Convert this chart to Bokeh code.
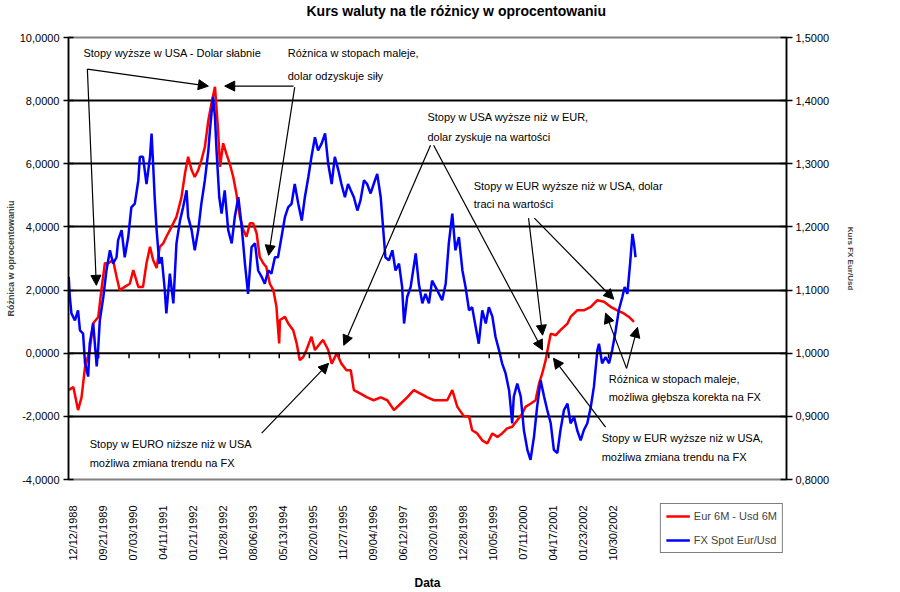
import math
from bokeh.plotting import figure
from bokeh.layouts import column
from bokeh.core.properties import value
from bokeh.models import (Range1d, LinearAxis, FixedTicker, Label, Arrow, NormalHead,
                          Legend, LegendItem, Span, Title)
from bokeh.embed import file_html
from bokeh.resources import INLINE

FONT = "Liberation Sans"

# ---------------- data (decimal years) ----------------
red_t = [1988.95, 1989.07, 1989.19, 1989.28, 1989.37, 1989.49, 1989.58, 1989.71, 1989.79, 1989.88,
         1989.97, 1990.09, 1990.18, 1990.26, 1990.39, 1990.52, 1990.61, 1990.74, 1990.86, 1990.95,
         1991.04, 1991.12, 1991.21, 1991.29, 1991.38, 1991.46, 1991.55, 1991.64, 1991.72, 1991.85,
         1991.94, 1992.02, 1992.11, 1992.19, 1992.28, 1992.36, 1992.45, 1992.54, 1992.62, 1992.71,
         1992.79, 1992.84, 1992.92, 1993.01, 1993.09, 1993.18, 1993.26, 1993.35, 1993.44, 1993.52,
         1993.61, 1993.69, 1993.78, 1993.86, 1993.95, 1994.03, 1994.12, 1994.21, 1994.29, 1994.36,
         1994.38, 1994.51, 1994.59, 1994.72, 1994.81, 1994.89, 1994.98, 1995.06, 1995.19, 1995.28,
         1995.41, 1995.49, 1995.62, 1995.71, 1995.84, 1995.96, 1996.09,
         1996.20, 1996.28, 1996.45, 1996.62, 1996.79, 1996.97, 1997.14, 1997.31, 1997.48, 1997.65,
         1997.82, 1997.99, 1998.17, 1998.34, 1998.51, 1998.68, 1998.81, 1998.94, 1999.11, 1999.24,
         1999.32, 1999.45, 1999.58, 1999.71, 1999.84, 1999.97, 2000.09, 2000.22, 2000.35, 2000.48,
         2000.61, 2000.69, 2000.82, 2000.95, 2001.04, 2001.12, 2001.21, 2001.29, 2001.34, 2001.47,
         2001.59, 2001.77, 2001.85, 2002.02, 2002.19, 2002.37, 2002.54, 2002.71, 2002.88, 2003.05,
         2003.22, 2003.35, 2003.48]
red_v = [-1.17, -1.07, -1.80, -1.40, -0.43, 0.10, 0.95, 1.15, 2.00, 2.85,
         2.85, 2.95, 2.42, 2.00, 2.10, 2.20, 2.63, 2.10, 2.10, 2.85,
         3.37, 2.95, 2.70, 3.37, 3.48, 3.69, 3.90, 4.12, 4.32, 4.95,
         5.70, 6.22, 5.80, 5.58, 5.80, 6.11, 6.53, 7.38, 7.91, 8.44,
         7.06, 5.90, 6.65, 6.30, 6.00, 5.58, 5.06, 4.32, 3.90, 3.69,
         4.12, 4.12, 3.80, 3.05, 2.85, 2.73, 2.20, 2.00, 1.47, 0.31,
         1.05, 1.15, 0.95, 0.73, 0.31, -0.22, -0.12, 0.10, 0.52, 0.10,
         0.31, 0.42, 0.10, -0.33, 0.00, -0.33, -0.54,
         -0.54, -1.17, -1.28, -1.40, -1.49, -1.40, -1.49, -1.80, -1.60, -1.40,
         -1.17, -1.28, -1.40, -1.49, -1.49, -1.49, -1.17, -1.70, -2.00, -2.00,
         -2.44, -2.54, -2.76, -2.86, -2.54, -2.65, -2.54, -2.38, -2.33, -2.12,
         -1.91, -1.70, -1.60, -1.49, -0.96, -0.65, -0.22, 0.31, 0.62, 0.57,
         0.73, 0.94, 1.15, 1.36, 1.36, 1.47, 1.68, 1.63, 1.47, 1.36,
         1.26, 1.15, 0.99]

blue_t = [1988.95, 1988.98, 1989.02, 1989.11, 1989.19, 1989.24, 1989.32, 1989.37, 1989.45, 1989.49,
          1989.58, 1989.67, 1989.71, 1989.75, 1989.84, 1989.92, 1990.01, 1990.09, 1990.18, 1990.22,
          1990.31, 1990.39, 1990.48, 1990.56, 1990.65, 1990.74, 1990.78, 1990.86, 1990.95, 1991.04,
          1991.08, 1991.12, 1991.16, 1991.21, 1991.28, 1991.34, 1991.42, 1991.46, 1991.55, 1991.64,
          1991.72, 1991.81, 1991.89, 1991.98, 1992.02, 1992.11, 1992.19, 1992.28, 1992.36, 1992.45,
          1992.54, 1992.58, 1992.66, 1992.71, 1992.75, 1992.82, 1992.88, 1992.96, 1993.05, 1993.14,
          1993.22, 1993.31, 1993.39, 1993.48, 1993.56, 1993.65, 1993.74, 1993.82, 1993.91, 1993.99,
          1994.08, 1994.16, 1994.25, 1994.33, 1994.42, 1994.51, 1994.59, 1994.68, 1994.76, 1994.85,
          1994.94, 1995.02, 1995.11, 1995.19, 1995.28, 1995.36, 1995.45, 1995.54, 1995.62, 1995.71,
          1995.79, 1995.88, 1995.96, 1996.05, 1996.13,
          1996.20, 1996.28, 1996.37, 1996.45, 1996.54, 1996.62, 1996.71, 1996.79, 1996.88, 1996.97,
          1997.05, 1997.09, 1997.18, 1997.27, 1997.35, 1997.44, 1997.52, 1997.57, 1997.65, 1997.74,
          1997.87, 1997.95, 1998.04, 1998.12, 1998.21, 1998.29, 1998.42, 1998.55, 1998.64, 1998.72,
          1998.81, 1998.89, 1998.98, 1999.07, 1999.15, 1999.24, 1999.32, 1999.41, 1999.49, 1999.58,
          1999.67, 1999.75, 1999.84, 1999.92, 2000.01, 2000.09, 2000.18, 2000.27, 2000.35, 2000.39,
          2000.48, 2000.57, 2000.65, 2000.74, 2000.82, 2000.91, 2000.99, 2001.08, 2001.17, 2001.25,
          2001.34, 2001.42, 2001.51, 2001.59, 2001.68, 2001.77, 2001.85, 2001.94, 2002.02, 2002.11,
          2002.19, 2002.28, 2002.37, 2002.45, 2002.54, 2002.58, 2002.66, 2002.75, 2002.84, 2002.92,
          2003.01, 2003.09, 2003.18, 2003.24, 2003.31, 2003.38, 2003.44, 2003.48, 2003.52]
blue_v = [1.121, 1.089, 1.063, 1.052, 1.068, 1.036, 1.031, 0.984, 0.963, 1.015,
          1.047, 0.979, 1.010, 1.052, 1.089, 1.131, 1.163, 1.142, 1.152, 1.179,
          1.195, 1.152, 1.184, 1.231, 1.237, 1.274, 1.311, 1.311, 1.268, 1.311,
          1.348, 1.300, 1.247, 1.195, 1.142, 1.152, 1.100, 1.063, 1.126, 1.079,
          1.174, 1.210, 1.231, 1.258, 1.216, 1.195, 1.163, 1.195, 1.237, 1.274,
          1.321, 1.353, 1.406, 1.374, 1.321, 1.247, 1.221, 1.258, 1.195, 1.174,
          1.216, 1.247, 1.205, 1.142, 1.094, 1.168, 1.174, 1.131, 1.121, 1.110,
          1.131, 1.126, 1.152, 1.152, 1.184, 1.216, 1.231, 1.237, 1.268, 1.237,
          1.210, 1.247, 1.279, 1.311, 1.342, 1.321, 1.332, 1.348, 1.300, 1.268,
          1.311, 1.290, 1.268, 1.247, 1.268,
          1.258, 1.247, 1.226, 1.242, 1.274, 1.268, 1.253, 1.268, 1.284, 1.247,
          1.184, 1.152, 1.147, 1.163, 1.131, 1.142, 1.105, 1.047, 1.089, 1.105,
          1.158, 1.110, 1.079, 1.094, 1.079, 1.115, 1.100, 1.084, 1.110, 1.174,
          1.221, 1.163, 1.184, 1.131, 1.105, 1.068, 1.073, 1.042, 1.015, 1.068,
          1.047, 1.073, 1.058, 1.026, 1.005, 0.984, 0.968, 0.941, 0.889, 0.931,
          0.952, 0.931, 0.878, 0.847, 0.831, 0.868, 0.915, 0.957, 0.931, 0.910,
          0.889, 0.847, 0.842, 0.878, 0.910, 0.920, 0.889, 0.899, 0.878, 0.862,
          0.878, 0.889, 0.915, 0.947, 1.005, 1.015, 0.984, 0.994, 0.984, 1.005,
          1.036, 1.068, 1.089, 1.105, 1.094, 1.142, 1.189, 1.174, 1.152]

x_tick_pos = [1988.945, 1989.721, 1990.501, 1991.274, 1992.055, 1992.822, 1993.595, 1994.362,
              1995.137, 1995.904, 1996.675, 1997.444, 1998.214, 1998.989, 1999.759, 2000.525,
              2001.290, 2002.060, 2002.827]
x_tick_labels = ["12/12/1988", "09/21/1989", "07/03/1990", "04/11/1991", "01/21/1992", "10/28/1992",
                 "08/06/1993", "05/13/1994", "02/20/1995", "11/27/1995", "09/04/1996", "06/12/1997",
                 "03/20/1998", "12/28/1998", "10/05/1999", "07/11/2000", "04/17/2001", "01/23/2002",
                 "10/30/2002"]
left_ticks = [-4, -2, 0, 2, 4, 6, 8, 10]
left_tick_labels = ["-4,0000", "-2,0000", "0,0000", "2,0000", "4,0000", "6,0000", "8,0000", "10,0000"]
right_ticks = [0.8, 0.9, 1.0, 1.1, 1.2, 1.3, 1.4, 1.5]
right_tick_labels = ["0,8000", "0,9000", "1,0000", "1,1000", "1,2000", "1,3000", "1,4000", "1,5000"]

series_names = ["Eur 6M - Usd 6M", "FX Spot Eur/Usd"]

annotations = [
    ("Stopy wyższe w USA - Dolar słabnie", 1989.33, 9.50),
    ("Różnica w stopach maleje,", 1994.58, 9.50),
    ("dolar odzyskuje siły", 1994.58, 8.77),
    ("Stopy  w USA wyższe niż w EUR,", 1998.17, 7.48),
    ("dolar zyskuje na wartości", 1998.17, 6.84),
    ("Stopy w EUR wyższe niż w USA, dolar", 1999.36, 5.29),
    ("traci na wartości", 1999.36, 4.72),
    ("Stopy w EURO niższe niż w USA", 1989.49, -2.88),
    ("możliwa zmiana trendu na FX", 1989.49, -3.48),
    ("Różnica w stopach maleje,", 2002.83, -0.82),
    ("możliwa głębsza korekta na FX", 2002.83, -1.39),
    ("Stopy w EUR wyższe niż w USA,", 2002.65, -2.69),
    ("możliwa zmiana trendu na FX", 2002.65, -3.29),
]

arrows = [
    (1989.43, 9.00, 1992.54, 8.46),
    (1989.43, 9.00, 1989.66, 2.15),
    (1994.73, 8.46, 1992.96, 8.46),
    (1994.76, 8.43, 1994.09, 3.10),
    (1993.91, -2.53, 1995.63, -0.32),
    (1998.25, 6.59, 1996.02, 0.25),
    (1998.33, 6.59, 2001.13, 0.10),
    (2000.77, 4.28, 2001.13, 0.57),
    (2000.92, 4.28, 2002.96, 1.71),
    (2002.75, -2.34, 2001.41, -0.16),
    (2003.29, -0.48, 2002.75, 1.27),
    (2003.29, -0.48, 2003.57, 0.82),
]

X0, X1 = 1988.945, 2007.40
FRAME_L, FRAME_W = 68, 718

# ---------------- main figure ----------------
p = figure(width=900, height=500, output_backend="svg", toolbar_location=None, title=None,
           x_range=Range1d(X0, X1), y_range=Range1d(-4, 10),
           x_axis_type=None,
           min_border_left=FRAME_L, min_border_right=900 - FRAME_L - FRAME_W,
           min_border_top=37, min_border_bottom=21)
p.background_fill_color = "white"
p.border_fill_color = "white"
p.outline_line_color = "#808080"
p.outline_line_width = 2

# spacer title (nearest the frame) then the real title above it
p.add_layout(Title(text=" ", text_font=FONT, text_font_size="10px", standoff=6), "above")
p.add_layout(Title(text="Kurs waluty na tle różnicy w oprocentowaniu", align="left", offset=238,
                   text_font=FONT, text_font_size="14px", text_font_style="bold",
                   text_color="black", standoff=0), "above")

ya = p.yaxis[0]
ya.ticker = FixedTicker(ticks=left_ticks)
ya.major_label_overrides = {t: l for t, l in zip(left_ticks, left_tick_labels)}
ya.axis_label = "Różnica w oprocentowaniu"
ya.axis_label_text_font = FONT
ya.axis_label_text_font_size = "9px"
ya.axis_label_text_font_style = "bold"
ya.axis_label_standoff = 1
ya.major_label_text_font = FONT
ya.major_label_text_font_size = "11px"
ya.major_label_text_color = "black"
ya.axis_line_color = "black"
ya.axis_line_width = 1.5
ya.major_tick_line_color = "black"
ya.major_tick_line_width = 1.5
ya.major_tick_in = 5
ya.major_tick_out = 5
ya.minor_tick_line_color = None
ya.major_label_standoff = 4

p.ygrid.ticker = FixedTicker(ticks=[-2, 2, 4, 6, 8])
p.ygrid.grid_line_color = "black"
p.ygrid.grid_line_width = 2

p.extra_y_ranges = {"fx": Range1d(0.8, 1.5)}
ra = LinearAxis(y_range_name="fx", ticker=FixedTicker(ticks=right_ticks),
                major_label_overrides={t: l for t, l in zip(right_ticks, right_tick_labels)},
                axis_label="Kurs FX Eur/Usd", axis_label_text_font=FONT,
                axis_label_text_font_size="8px", axis_label_text_font_style="bold",
                axis_label_standoff=14,
                major_label_text_font=FONT, major_label_text_font_size="11px",
                major_label_text_color="black",
                axis_line_color="black", axis_line_width=1.5,
                major_tick_line_color="black", major_tick_line_width=1.5,
                major_tick_in=6, major_tick_out=6, minor_tick_line_color=None,
                major_label_standoff=3)
p.add_layout(ra, "right")

p.add_layout(Span(location=0, dimension="width", line_color="black", line_width=2))
p.segment(x0=x_tick_pos, y0=[0] * len(x_tick_pos), x1=x_tick_pos, y1=[-0.16] * len(x_tick_pos),
          line_color="black", line_width=1.5)

r_red = p.line(red_t, red_v, line_color="#FF0000", line_width=2.5)
r_blue = p.line(blue_t, blue_v, line_color="#0000FF", line_width=2.5, y_range_name="fx")

for txt, x, y in annotations:
    p.add_layout(Label(x=x, y=y, text=txt, text_font=FONT, text_font_size="11px",
                       text_color="black", text_baseline="middle", text_align="left"))

for x0, y0, x1, y1 in arrows:
    p.add_layout(Arrow(end=NormalHead(size=10, fill_color="black", line_color="black"),
                       x_start=x0, y_start=y0, x_end=x1, y_end=y1,
                       line_color="black", line_width=1.2))

# ---------------- bottom strip: date labels, axis title, legend ----------------
# (its frame is aligned with the main frame by the column layout)
BH = 92
b = figure(width=900, height=BH, output_backend="svg", toolbar_location=None, title=None,
           x_range=Range1d(X0, X1), y_range=Range1d(0, BH),
           x_axis_type=None, y_axis_type=None,
           min_border_left=0, min_border_right=0, min_border_top=0, min_border_bottom=0)
b.outline_line_color = None
b.background_fill_color = "white"
b.border_fill_color = "white"
b.xgrid.visible = False
b.ygrid.visible = False

b.text(x=x_tick_pos, y=[BH - 5] * len(x_tick_pos), text=x_tick_labels, angle=math.pi / 2,
       text_align="right", text_baseline="middle", x_offset=4,
       text_font=value(FONT), text_font_size="11px", text_color="black")
b.add_layout(Label(x=(X0 + X1) / 2, y=10, text="Data", text_align="center",
                   text_baseline="middle", text_font=FONT, text_font_size="12px",
                   text_font_style="bold", text_color="black"))

lr = b.line(red_t, red_v, line_color="#FF0000", line_width=2.5)
lb = b.line(blue_t, blue_v, line_color="#0000FF", line_width=2.5)
lr.visible = False
lb.visible = False
legend = Legend(items=[LegendItem(label=series_names[0], renderers=[lr]),
                       LegendItem(label=series_names[1], renderers=[lb])],
                location="top_right", orientation="vertical",
                border_line_color="black", border_line_width=1.5,
                padding=5, spacing=10, margin=3,
                glyph_width=24, glyph_height=14, label_height=14,
                label_standoff=4,
                label_text_font=FONT, label_text_font_size="11px",
                inactive_fill_alpha=0,
                background_fill_color="white", background_fill_alpha=1)
b.add_layout(legend)

layout = column(p, b, spacing=0)
open("out.html", "w").write(file_html(layout, INLINE))
